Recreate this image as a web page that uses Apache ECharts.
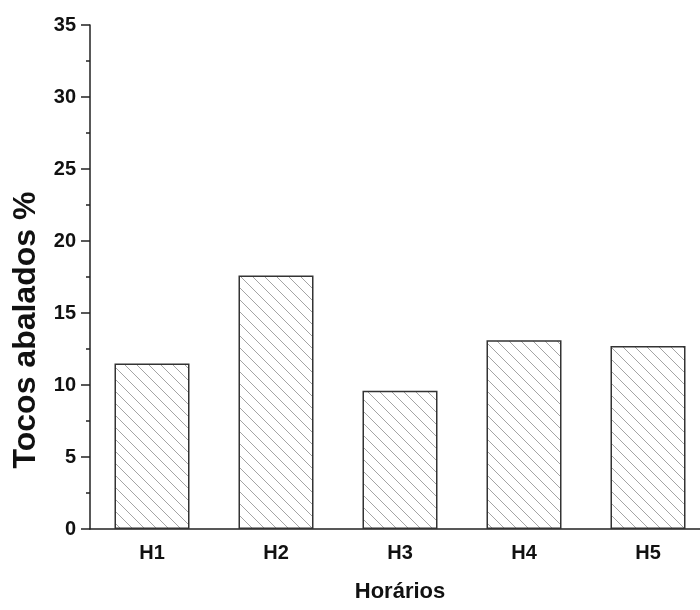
<!DOCTYPE html>
<html>
<head>
<meta charset="utf-8">
<script src="https://cdn.jsdelivr.net/npm/echarts@6/dist/echarts.min.js"></script>
<style>html,body{margin:0;padding:0;background:#fff;overflow:hidden;width:700px;height:610px}#c{width:710px;height:610px}</style>
</head>
<body>
<div id="c"></div>
<script>
var categories = ['H1', 'H2', 'H3', 'H4', 'H5'];
var values = [11.5, 17.6, 9.6, 13.1, 12.7];
var yTitle = 'Tocos abalados %';
var xTitle = 'Horários';

function hatch() {
  var s = 12;
  var c = document.createElement('canvas');
  c.width = s; c.height = s;
  var g = c.getContext('2d');
  g.fillStyle = '#ffffff';
  g.fillRect(0, 0, s, s);
  g.strokeStyle = '#9a9a9a';
  g.lineWidth = 0.9;
  g.beginPath();
  g.moveTo(-1, -1); g.lineTo(s + 1, s + 1);
  g.moveTo(-1, s - 1); g.lineTo(1, s + 1);
  g.moveTo(s - 1, -1); g.lineTo(s + 1, 1);
  g.stroke();
  return c;
}

var font = 'Liberation Sans, Arial, sans-serif';
var chart = echarts.init(document.getElementById('c'), null, {renderer: 'canvas', width: 710, height: 610});
chart.setOption({
  animation: false,
  backgroundColor: '#fff',
  grid: {left: 90, right: 0, top: 25, bottom: 81},
  xAxis: [{
    type: 'category',
    data: categories,
    position: 'bottom',
    axisLine: {lineStyle: {color: '#222', width: 1.5}},
    axisTick: {alignWithLabel: true, length: 9, lineStyle: {color: '#222', width: 1.5}},
    axisLabel: {color: '#111', fontFamily: font, fontWeight: 'bold', fontSize: 20, margin: 14},
    name: xTitle,
    nameLocation: 'middle',
    nameGap: 52,
    nameTextStyle: {color: '#111', fontFamily: font, fontWeight: 'bold', fontSize: 22}
  }, {
    type: 'category',
    data: categories,
    position: 'bottom',
    axisLine: {show: false},
    axisTick: {alignWithLabel: false, length: 5, lineStyle: {color: '#222', width: 1.5}},
    axisLabel: {show: false}
  }],
  yAxis: {
    type: 'value',
    min: 0, max: 35, interval: 5,
    axisLine: {show: true, lineStyle: {color: '#222', width: 1.5}},
    axisTick: {show: true, length: 9, lineStyle: {color: '#222', width: 1.5}},
    minorTick: {show: true, splitNumber: 2, length: 4, lineStyle: {color: '#222', width: 1.5}},
    splitLine: {show: false},
    axisLabel: {color: '#111', fontFamily: font, fontWeight: 'bold', fontSize: 20, margin: 14}
  },
  graphic: [{
    type: 'text',
    x: 26, y: 330,
    rotation: Math.PI / 2,
    style: {
      text: yTitle,
      fill: '#111',
      font: 'bold 32px ' + font,
      textAlign: 'center',
      textVerticalAlign: 'middle'
    }
  }],
  series: [{
    type: 'bar',
    data: values,
    barWidth: 75,
    itemStyle: {
      color: {image: hatch(), repeat: 'repeat'},
      borderColor: '#333',
      borderWidth: 1.5
    }
  }]
});
</script>
</body>
</html>
